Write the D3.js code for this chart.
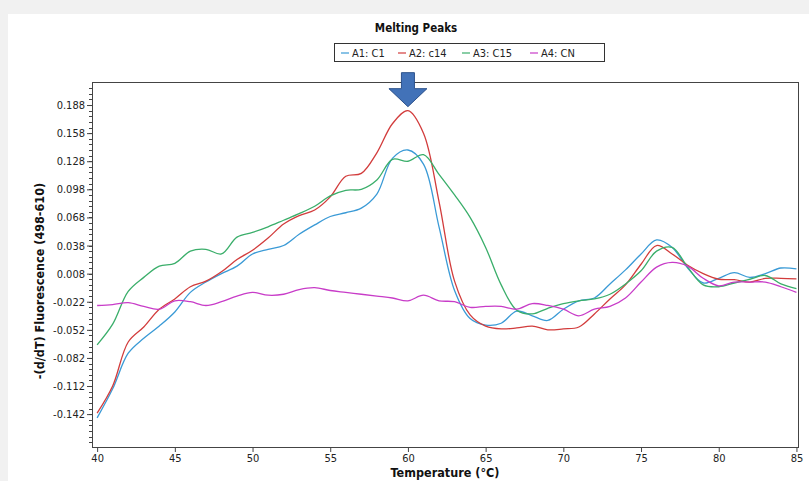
<!DOCTYPE html>
<html>
<head>
<meta charset="utf-8">
<script src="https://cdn.jsdelivr.net/npm/d3@7"></script>
<style>
  body { margin: 0; background: #f1f1f1; }
  svg { display: block; }
  text { font-family: "DejaVu Sans Condensed", "DejaVu Sans", sans-serif; font-stretch: condensed; }
</style>
</head>
<body>
<div id="chart"></div>
<script>
// Melting peaks: -(d/dT) fluorescence vs temperature, 4 wells

const temps = d3.range(40, 86); // 40..85 °C, 1 degree steps

const seriesNames = ["A1: C1", "A2: c14", "A3: C15", "A4: CN"];
const seriesColors = ["#3a9ad6", "#d23c3c", "#3aae6a", "#c83cc8"];

const a1 = [-0.146, -0.115, -0.077, -0.061, -0.048, -0.033, -0.012, -0.001, 0.008, 0.016,
            0.029, 0.034, 0.038, 0.050, 0.060, 0.069, 0.073, 0.078, 0.093, 0.131,
            0.140, 0.125, 0.058, -0.010, -0.040, -0.047, -0.045, -0.032, -0.037, -0.042,
            -0.030, -0.021, -0.018, -0.003, 0.012, 0.029, 0.044, 0.036, 0.014, -0.002,
            0.003, 0.009, 0.004, 0.008, 0.014, 0.013];

const a2 = [-0.141, -0.112, -0.065, -0.049, -0.030, -0.019, -0.006, 0.000, 0.010, 0.023,
            0.033, 0.046, 0.061, 0.070, 0.076, 0.090, 0.112, 0.115, 0.137, 0.168,
            0.182, 0.158, 0.085, 0.000, -0.036, -0.048, -0.051, -0.050, -0.048, -0.052,
            -0.051, -0.049, -0.035, -0.019, -0.004, 0.018, 0.038, 0.029, 0.017, 0.008,
            0.002, 0.0015, -0.001, 0.003, 0.003, 0.0025];

const a3 = [-0.068, -0.046, -0.011, 0.004, 0.016, 0.019, 0.032, 0.034, 0.029, 0.047,
            0.052, 0.058, 0.065, 0.072, 0.080, 0.091, 0.097, 0.098, 0.108, 0.130,
            0.128, 0.135, 0.114, 0.092, 0.068, 0.036, -0.004, -0.031, -0.035, -0.029,
            -0.024, -0.021, -0.019, -0.014, -0.003, 0.011, 0.032, 0.036, 0.015, -0.004,
            -0.006, -0.002, 0.002, 0.006, -0.003, -0.008];

const a4 = [-0.026, -0.025, -0.023, -0.027, -0.030, -0.021, -0.022, -0.026, -0.022, -0.016,
            -0.012, -0.015, -0.014, -0.009, -0.007, -0.010, -0.012, -0.014, -0.016, -0.018,
            -0.021, -0.015, -0.021, -0.022, -0.028, -0.027, -0.027, -0.030, -0.024, -0.026,
            -0.030, -0.037, -0.030, -0.027, -0.018, -0.001, 0.015, 0.020, 0.016, 0.003,
            -0.005, -0.001, -0.001, -0.001, -0.006, -0.012];

const seriesValues = [a1, a2, a3, a4];

const xTicks = [40, 45, 50, 55, 60, 65, 70, 75, 80, 85];
const yTicks = [0.188, 0.158, 0.128, 0.098, 0.068, 0.038, 0.008, -0.022, -0.052, -0.082, -0.112, -0.142];

const peakTemp = 60; // arrow marks the A2 peak

const width = 809, height = 481;

const svg = d3.select("#chart").append("svg")
    .attr("width", width)
    .attr("height", height);

// white panel on light grey page
svg.append("rect")
    .attr("x", 8).attr("y", 14)
    .attr("width", width - 8).attr("height", height - 14)
    .attr("fill", "#fff");

const x = d3.scaleLinear().domain([39.67, 85.1]).range([92, 798]);
const y = d3.scaleLinear().domain([-0.1771, 0.2126]).range([447, 82]);

// minor y ticks
const minor = d3.range(-0.178, 0.212, 0.006).filter(v => v >= y.domain()[0] && v <= y.domain()[1]);
svg.append("g").selectAll("line")
    .data(minor)
    .enter().append("line")
    .attr("x1", x.range()[0] - 3).attr("x2", x.range()[0])
    .attr("y1", d => Math.round(y(d)) + 0.5).attr("y2", d => Math.round(y(d)) + 0.5)
    .attr("stroke", "#444");

// axes
const yAxis = svg.append("g")
    .attr("transform", `translate(${x.range()[0]},0)`)
    .call(d3.axisLeft(y).tickValues(yTicks).tickFormat(d => d.toFixed(3)).tickSize(5).tickPadding(2));
yAxis.select(".domain").remove();
yAxis.selectAll("text").attr("font-size", "11px").attr("fill", "#222").attr("font-family", null);
yAxis.selectAll("line").attr("stroke", "#444");

const xAxis = svg.append("g")
    .attr("transform", `translate(0,${y.range()[0]})`)
    .call(d3.axisBottom(x).tickValues(xTicks).tickFormat(d => d).tickSize(5).tickPadding(2));
xAxis.select(".domain").remove();
xAxis.selectAll("text").attr("font-size", "11px").attr("fill", "#222").attr("font-family", null);
xAxis.selectAll("line").attr("stroke", "#444");

// frame
svg.append("rect")
    .attr("x", x.range()[0] + 0.5).attr("y", y.range()[1] + 0.5)
    .attr("width", x.range()[1] - x.range()[0])
    .attr("height", y.range()[0] - y.range()[1])
    .attr("fill", "none")
    .attr("stroke", "#444")
    .attr("stroke-width", 1);

// lines
const line = d3.line()
    .x((d, i) => x(temps[i]))
    .y(d => y(d))
    .curve(d3.curveCatmullRom);

svg.append("g").selectAll("path")
    .data(seriesValues)
    .enter().append("path")
    .attr("d", line)
    .attr("fill", "none")
    .attr("stroke", (d, i) => seriesColors[i])
    .attr("stroke-width", 1.3);

// arrow over the peak
const peakIdx = temps.indexOf(peakTemp);
const ax = x(peakTemp), ay = y(a2[peakIdx]) - 4;
svg.append("path")
    .attr("d", `M${ax - 6.5},${ay - 34} L${ax + 6.5},${ay - 34} L${ax + 6.5},${ay - 18} L${ax + 19},${ay - 18}
                L${ax},${ay} L${ax - 19},${ay - 18} L${ax - 6.5},${ay - 18} Z`)
    .attr("fill", "#4272b8")
    .attr("stroke", "#2d528c")
    .attr("stroke-width", 1);

// title
svg.append("text")
    .attr("x", 416).attr("y", 32)
    .attr("text-anchor", "middle")
    .attr("font-weight", "bold")
    .attr("font-size", "11.5px")
    .attr("fill", "#111")
    .text("Melting Peaks");

// legend
const legend = svg.append("g");
legend.append("rect")
    .attr("x", 334.5).attr("y", 43.5)
    .attr("width", 270).attr("height", 18)
    .attr("fill", "#fff")
    .attr("stroke", "#333");

const itemX = [341, 398, 462, 530];
const items = legend.selectAll("g.item")
    .data(seriesNames)
    .enter().append("g")
    .attr("transform", (d, i) => `translate(${itemX[i]},53)`);
items.append("line")
    .attr("x1", 0).attr("x2", 8)
    .attr("stroke", (d, i) => seriesColors[i])
    .attr("stroke-width", 1.2);
items.append("text")
    .attr("x", 11).attr("y", 4)
    .attr("font-size", "11px")
    .attr("fill", "#222")
    .text(d => d);

// axis titles
svg.append("text")
    .attr("x", 445).attr("y", 477)
    .attr("text-anchor", "middle")
    .attr("font-weight", "bold")
    .attr("font-size", "12.5px")
    .attr("fill", "#111")
    .text("Temperature (°C)");

svg.append("text")
    .attr("transform", "translate(44,281) rotate(-90)")
    .attr("text-anchor", "middle")
    .attr("font-weight", "bold")
    .attr("font-size", "12.5px")
    .attr("fill", "#111")
    .text("-(d/dT) Fluorescence (498-610)");
</script>
</body>
</html>
